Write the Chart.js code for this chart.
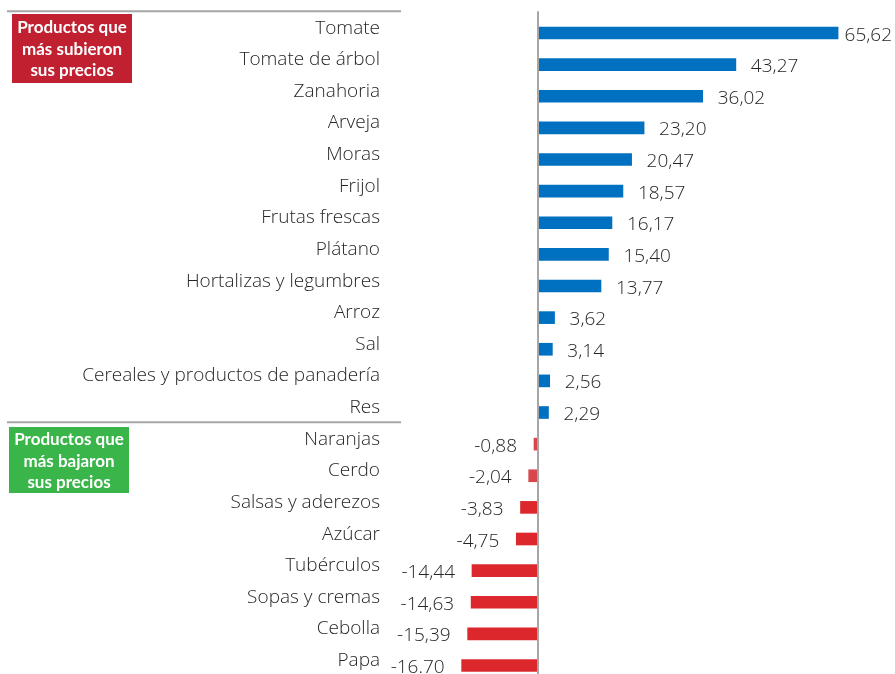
<!DOCTYPE html>
<html>
<head>
<meta charset="utf-8">
<script src="https://cdn.jsdelivr.net/npm/chart.js@4"></script>
<style>
html,body{margin:0;padding:0;background:#fff;}
#wrap{width:895px;height:674px;position:relative;}
</style>
</head>
<body>
<div id="wrap"><canvas id="c"></canvas></div>
<script>
const categories = ["Tomate","Tomate de árbol","Zanahoria","Arveja","Moras","Frijol","Frutas frescas","Plátano","Hortalizas y legumbres","Arroz","Sal","Cereales y productos de panadería","Res","Naranjas","Cerdo","Salsas y aderezos","Azúcar","Tubérculos","Sopas y cremas","Cebolla","Papa"];
const values = [65.62,43.27,36.02,23.20,20.47,18.57,16.17,15.40,13.77,3.62,3.14,2.56,2.29,-0.88,-2.04,-3.83,-4.75,-14.44,-14.63,-15.39,-16.70];
const valueLabels = ["65,62","43,27","36,02","23,20","20,47","18,57","16,17","15,40","13,77","3,62","3,14","2,56","2,29","-0,88","-2,04","-3,83","-4,75","-14,44","-14,63","-15,39","-16.70"];
const groupUp = ["Productos que","más subieron","sus precios"];
const groupDown = ["Productos que","más bajaron","sus precios"];

const TEXT_FONT = "300 19px 'Open Sans', sans-serif";
const BOX_FONT = "bold 17px Lato, sans-serif";

const overlay = {
  id: 'overlay',
  afterDraw(chart) {
    const ctx = chart.ctx;
    const xs = chart.scales.x, ys = chart.scales.y;
    const x0 = xs.getPixelForValue(0);
    ctx.save();
    // separator lines
    ctx.strokeStyle = '#a6a6a6';
    ctx.lineWidth = 2;
    const yTop = ys.getPixelForValue(-0.5) - 6;
    const ySep = ys.getPixelForValue(12.5) - 6;
    [yTop, ySep].forEach(y => {
      ctx.beginPath(); ctx.moveTo(7, y); ctx.lineTo(401, y); ctx.stroke();
    });
    // zero axis
    ctx.beginPath(); ctx.moveTo(x0, yTop); ctx.lineTo(x0, chart.height); ctx.stroke();
    // category labels
    ctx.fillStyle = '#262626';
    ctx.font = TEXT_FONT;
    ctx.textBaseline = 'alphabetic';
    ctx.textAlign = 'right';
    categories.forEach((c, i) => {
      ctx.fillText(c, 380, ys.getPixelForValue(i) + 0.5);
    });
    // value labels
    const meta = chart.getDatasetMeta(0);
    meta.data.forEach((bar, i) => {
      const v = values[i];
      const t = valueLabels[i];
      if (v >= 0) {
        ctx.textAlign = 'left';
        const w = ctx.measureText(t).width;
        const x = Math.min(bar.x + 15, chart.width - w - 3);
        ctx.fillText(t, x, bar.y + 7.5);
      } else {
        ctx.textAlign = 'right';
        ctx.fillText(t, bar.x - 17, bar.y + 7.5);
      }
    });
    // group boxes
    function box(x, y, w, h, color, lines, baseY) {
      ctx.fillStyle = color;
      ctx.fillRect(x, y, w, h);
      ctx.fillStyle = '#ffffff';
      ctx.font = BOX_FONT;
      ctx.textAlign = 'center';
      lines.forEach((t, k) => ctx.fillText(t, x + w / 2, baseY + k * 21.5));
    }
    box(12, 14, 120, 69, '#c0202f', groupUp, 33);
    box(9, 427, 120, 66, '#3ab54a', groupDown, 445);
    ctx.restore();
  }
};

new Chart(document.getElementById('c'), {
  type: 'bar',
  data: {
    labels: categories,
    datasets: [{
      data: values,
      backgroundColor: (c) => {
        const v = c.raw;
        if (v >= 0) return '#0070c0';
        if (v > -2.5) return '#d9474e';
        return '#dc282c';
      },
      barThickness: 12,
      clip: false
    }]
  },
  plugins: [overlay],
  options: {
    indexAxis: 'y',
    responsive: true,
    maintainAspectRatio: false,
    animation: false,
    layout: { padding: { left: 446.56, right: 36.9, top: 33, bottom: 8.5 } },
    plugins: { legend: { display: false }, tooltip: { enabled: false } },
    scales: {
      x: { type: 'linear', min: -20, max: 70, display: false },
      y: { type: 'category', offset: false, display: false }
    }
  }
});
</script>
</body>
</html>
